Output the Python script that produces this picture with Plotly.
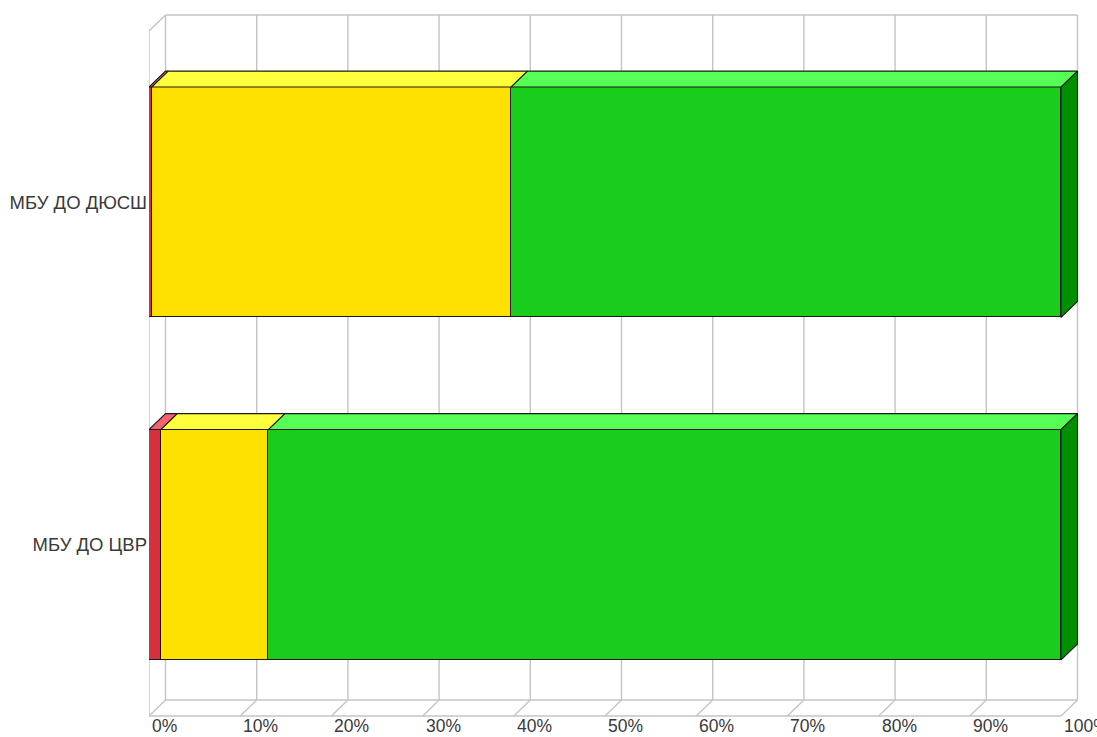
import plotly.graph_objects as go

# ---------------- data ----------------
categories = ["МБУ ДО ЦВР", "МБУ ДО ДЮСШ"]
red_vals = [1.3, 0.3]
yellow_vals = [11.8, 39.4]
green_vals = [86.9, 60.3]
tick_values = [0, 10, 20, 30, 40, 50, 60, 70, 80, 90, 100]
tick_labels = ["0%", "10%", "20%", "30%", "40%", "50%", "60%", "70%", "80%", "90%", "100%"]

# ---------------- styling ----------------
front_colors = ["#d7303d", "#ffe100", "#1acd1c"]
top_colors = ["#f2636f", "#ffff3c", "#55ff55"]
side_colors = ["#a01020", "#c8b000", "#008f00"]
edge = "#1a1a1a"
grid = "#c4c4c4"
font_family = "Liberation Sans, Arial, sans-serif"
text_color = "#3a3a3a"

W, H = 1097, 737
ML, MR, MT, MB = 149, 17, 12, 18
px_x = 9.12          # px per percent
px_y = 343.5         # px per category step
dx = 16.5 / px_x     # 3D depth offset (data units)
dy = 16.0 / px_y
bar_w = 231.0 / px_y

x_max = (W - MR - ML) / px_x
y_top_front = 1.5
y_bot = -0.5
y_max = y_top_front + dy + 3.0 / px_y
y_min = y_bot - 3.0 / px_y

series = [red_vals, yellow_vals, green_vals]
ypos = list(range(len(categories)))

fig = go.Figure()

# front faces via stacked bars
for s, vals in enumerate(series):
    fig.add_trace(go.Bar(
        y=ypos, x=vals, orientation="h", width=bar_w,
        marker=dict(color=front_colors[s], line=dict(color=edge, width=1.2)),
        showlegend=False, hoverinfo="x",
    ))

# top faces and right side face
for i, yc in enumerate(ypos):
    yt = yc + bar_w / 2
    yb = yc - bar_w / 2
    cum = 0.0
    for s, vals in enumerate(series):
        x0 = cum
        x1 = cum + vals[i]
        cum = x1
        fig.add_trace(go.Scatter(
            x=[x0, x1, x1 + dx, x0 + dx, x0],
            y=[yt, yt, yt + dy, yt + dy, yt],
            mode="lines", fill="toself", fillcolor=top_colors[s],
            line=dict(color=edge, width=1.1), showlegend=False, hoverinfo="skip",
        ))
    last = len(series) - 1
    fig.add_trace(go.Scatter(
        x=[cum, cum + dx, cum + dx, cum, cum],
        y=[yt, yt + dy, yb + dy, yb, yt],
        mode="lines", fill="toself", fillcolor=side_colors[last],
        line=dict(color=edge, width=1.1), showlegend=False, hoverinfo="skip",
    ))

# 3D box / gridlines
shapes = []
def ln(xa, ya, xb, yb_):
    shapes.append(dict(type="line", xref="x", yref="y", x0=xa, y0=ya, x1=xb, y1=yb_,
                       line=dict(color=grid, width=1.4), layer="below"))

for t in tick_values:
    ln(t + dx, y_bot + dy, t + dx, y_top_front + dy)   # back wall verticals
    ln(t, y_bot, t + dx, y_bot + dy)                   # floor diagonals
ln(0, y_bot, tick_values[-1], y_bot)                                  # floor front
ln(dx, y_bot + dy, tick_values[-1] + dx, y_bot + dy)                  # floor back
ln(dx, y_top_front + dy, tick_values[-1] + dx, y_top_front + dy)      # top back edge
ln(0, y_bot, 0, y_top_front)                                          # left wall front
ln(0, y_top_front, dx, y_top_front + dy)                              # left wall top

annotations = []
for t, lab in zip(tick_values, tick_labels):
    annotations.append(dict(
        x=t, y=y_bot, xref="x", yref="y", text=lab, showarrow=False,
        xanchor="left", yanchor="middle", xshift=1, yshift=-10,
        font=dict(family=font_family, size=17.5, color=text_color),
    ))

fig.update_layout(
    width=W, height=H,
    margin=dict(l=ML, r=MR, t=MT, b=MB),
    paper_bgcolor="white", plot_bgcolor="white",
    barmode="stack", bargap=0,
    shapes=shapes, annotations=annotations,
    xaxis=dict(range=[0, x_max], visible=False, showgrid=False, zeroline=False, fixedrange=True),
    yaxis=dict(range=[y_min, y_max], showgrid=False, zeroline=False, showline=False,
               tickvals=ypos, ticktext=categories, ticks="", ticklabelstandoff=1,
               automargin=False, fixedrange=True,
               tickfont=dict(family=font_family, size=18.5, color=text_color)),
    showlegend=False,
)

fig.write_html("out.html", config={"displayModeBar": False},
               post_script="document.body.style.margin='0';document.body.style.overflow='hidden';")
